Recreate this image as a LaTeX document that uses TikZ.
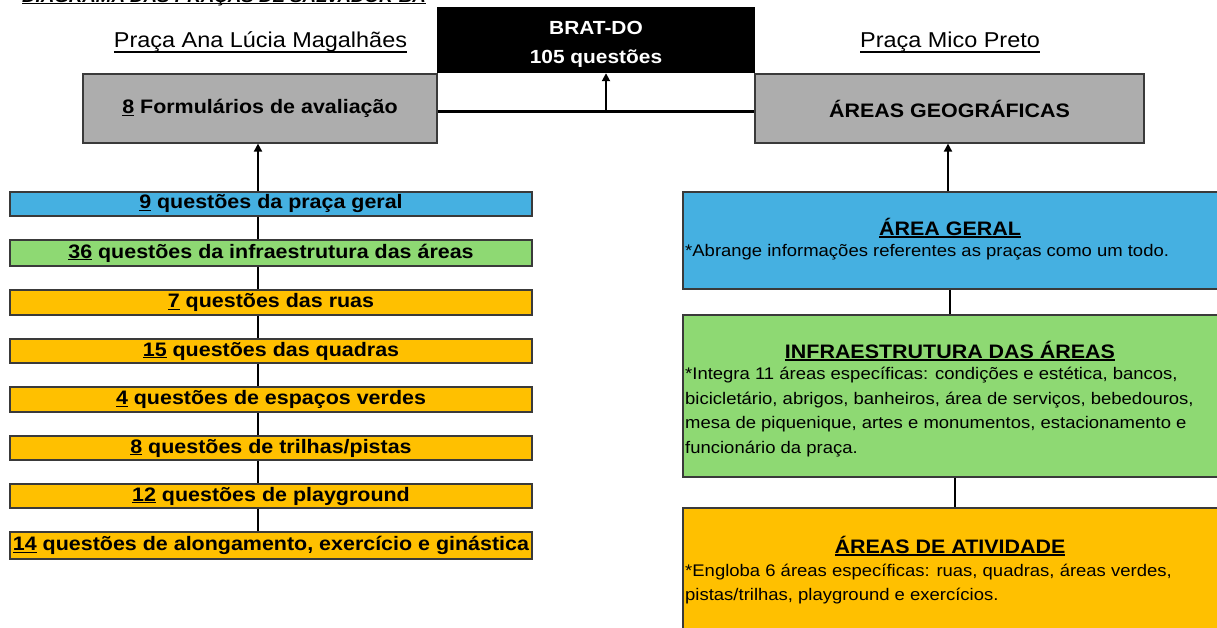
\documentclass[tikz,border=0pt]{standalone}
\usepackage{fontspec}
\usepackage{graphicx}
\setmainfont{Liberation Sans}
\usetikzlibrary{arrows.meta}
\definecolor{cblue}{HTML}{45B0E1}
\definecolor{cgreen}{HTML}{8ED973}
\definecolor{corange}{HTML}{FFC000}
\definecolor{cgray}{HTML}{ADADAD}
\definecolor{cborder}{HTML}{3A3A3A}
\newcommand\bt[1]{\scalebox{1.1}[1]{#1}}
\newcommand\ulx[2][0.12em]{\leavevmode\setbox0=\hbox{#2}\rlap{\rule[-#1]{\wd0}{0.07em}}\box0\relax}
\begin{document}
\begin{tikzpicture}[x=1pt,y=-1pt,
  bold/.style={font=\fontsize{19.5}{22}\selectfont\bfseries},
  bar/.style={draw=cborder, line width=1.2pt, minimum width=522pt, inner sep=0pt, bold},
  gbox/.style={draw=cborder, line width=1.2pt, fill=cgray, minimum height=69pt, inner sep=0pt, bold},
  rbox/.style={draw=cborder, line width=1.2pt, minimum width=542pt, inner sep=0pt},
  hd/.style={inner sep=0pt, bold},
  desc/.style={inner sep=0pt, anchor=base west, font=\fontsize{16.8}{24.5}\selectfont},
  conn/.style={line width=2.8pt},
  arr/.style={line width=1.8pt, -{Triangle[length=8pt,width=8pt]}},
  plc/.style={inner sep=0pt, anchor=base, font=\fontsize{21.5}{24}\selectfont}]
\useasboundingbox (0,0) rectangle (1217,628);

% title (cut at the top, as in the reference)
\node[inner sep=0pt, anchor=base west, font=\fontsize{17}{18}\selectfont\bfseries\itshape] (title) at (22,2.2)
  {\bt{\ulx[0.1em]{DIAGRAMA DAS PRAÇAS DE SALVADOR-BA}}};

% top row
\node[plc] (pana) at (260.5,48) {\scalebox{1.09}[1]{\ulx[0.22em]{Praça Ana Lúcia Magalhães}}};
\node[plc] (pmico) at (950,48) {\scalebox{1.09}[1]{\ulx[0.22em]{Praça Mico Preto}}};

\node[fill=black, minimum width=318pt, minimum height=66pt, inner sep=0pt] (brat) at (596,40) {};
\node[hd, text=white, align=center, font=\fontsize{19}{29}\selectfont\bfseries] (brattxt) at (596,44) {\bt{BRAT-DO}\\\bt{105 questões}};

\node[gbox, minimum width=354pt] (form) at (260,108.5) {\bt{\ulx{8} Formulários de avaliação}};
\node[gbox, minimum width=389pt] (geo) at (949.5,108.5) {\bt{ÁREAS GEOGRÁFICAS}};

\coordinate (hy) at (0,112);
\coordinate (bx) at (606,0);
\draw[line width=3pt] (form.east |- hy) -- (geo.west |- hy);
\draw[arr] (bx |- hy) -- (bx |- brat.south);

% left column
\node[bar, fill=cblue,   minimum height=24pt] (b1) at (271,204)   {\bt{\ulx{9} questões da praça geral}};
\node[bar, fill=cgreen,  minimum height=26pt] (b2) at (271,253)   {\bt{\ulx{36} questões da infraestrutura das áreas}};
\node[bar, fill=corange, minimum height=25pt] (b3) at (271,302.5) {\bt{\ulx{7} questões das ruas}};
\node[bar, fill=corange, minimum height=24pt] (b4) at (271,351)   {\bt{\ulx{15} questões das quadras}};
\node[bar, fill=corange, minimum height=25pt] (b5) at (271,399.5) {\bt{\ulx{4} questões de espaços verdes}};
\node[bar, fill=corange, minimum height=24pt] (b6) at (271,448)   {\bt{\ulx{8} questões de trilhas/pistas}};
\node[bar, fill=corange, minimum height=24pt] (b7) at (271,496)   {\bt{\ulx{12} questões de playground}};
\node[bar, fill=corange, minimum height=27pt] (b8) at (271,545.5) {\bt{\ulx{14} questões de alongamento, exercício e ginástica}};

\coordinate (ax) at (258,0);
\draw[arr] (b1.north -| ax) -- (form.south -| ax);
\foreach \a/\b in {b1/b2,b2/b3,b3/b4,b4/b5,b5/b6,b6/b7,b7/b8}
  \draw[conn] (\a.south -| ax) -- (\b.north -| ax);

% right column
\node[rbox, fill=cblue,   minimum height=97pt]  (ga)  at (954,240.5) {};
\node[rbox, fill=cgreen,  minimum height=162pt] (inf) at (954,396)   {};
\node[rbox, fill=corange, minimum height=132pt] (atv) at (954,574)   {};

\node[hd] (gahd) at (950,228) {\bt{\ulx{ÁREA GERAL}}};
\node[desc] (gatx) at (685,257) {\bt{*Abrange informações referentes as praças como um todo.}};

\node[hd] (infhd) at (950,351) {\bt{\ulx{INFRAESTRUTURA DAS ÁREAS}}};
\node[desc] (inftx) at (685,379.5) {\bt{\begin{tabular}[t]{@{}l@{}}*Integra 11 áreas específicas: condições e estética, bancos,\\
bicicletário, abrigos, banheiros, área de serviços, bebedouros,\\
mesa de piquenique, artes e monumentos, estacionamento e\\
funcionário da praça.\end{tabular}}};

\node[hd] (atvhd) at (950,546) {\bt{\ulx{ÁREAS DE ATIVIDADE}}};
\node[desc] (atvtx) at (685,576) {\bt{\begin{tabular}[t]{@{}l@{}}*Engloba 6 áreas específicas: ruas, quadras, áreas verdes,\\
pistas/trilhas, playground e exercícios.\end{tabular}}};

\coordinate (rx) at (948,0);
\coordinate (rx1) at (950,0);
\coordinate (rx2) at (955,0);
\draw[arr] (ga.north -| rx) -- (geo.south -| rx);
\draw[conn] (ga.south -| rx1) -- (inf.north -| rx1);
\draw[conn] (inf.south -| rx2) -- (atv.north -| rx2);
\end{tikzpicture}
\end{document}
